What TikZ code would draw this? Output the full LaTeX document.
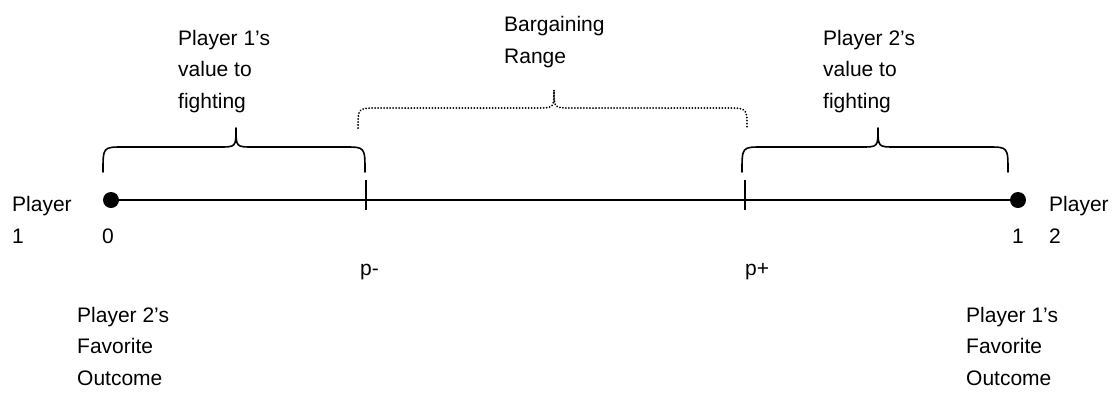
\documentclass[tikz,border=0pt]{standalone}
\usepackage{fontspec}
\setmainfont{Liberation Sans}
\begin{document}
\begin{tikzpicture}[x=1pt,y=-1pt,
  lbl/.style={anchor=base west,inner sep=0pt,font=\fontsize{21}{31.5}\selectfont,align=left},
  axis/.style={line width=1.6pt},
  endpt/.style={circle,fill=black,inner sep=0pt,minimum size=16pt},
  bracket/.style={line width=1.6pt,line cap=round,line join=round},
  dotbracket/.style={line width=2pt,dash pattern=on 0.01pt off 3pt,line cap=round}]
\useasboundingbox (0,0) rectangle (1113,392);

% brace: ends x1,x2, tip x, foot y, shoulder y, tip y
\newcommand\bracepath[6]{%
  (#1,#4) .. controls (#1,#5) .. (#1+20,#5) -- (#3-17,#5)
  .. controls (#3,#5) .. (#3,#6)
  .. controls (#3,#5) .. (#3+17,#5) -- (#2-20,#5)
  .. controls (#2,#5) .. (#2,#4)}

% the line with its end points and ticks
\node[endpt] (zero) at (111,200) {};
\node[endpt] (one) at (1018,200) {};
\draw[axis] (zero) -- (one);
\coordinate (pm) at (366,200);
\coordinate (pp) at (745,200);
\draw[axis] ([yshift=-10pt]pm) -- ([yshift=20pt]pm);
\draw[axis] ([yshift=-10pt]pp) -- ([yshift=20pt]pp);

% braces
\draw[bracket] \bracepath{103}{365}{236}{172}{147}{128};
\draw[bracket] \bracepath{742}{1008}{878}{172}{147}{128};
\draw[dotbracket] \bracepath{358}{747}{554}{128}{108}{90};

% labels (multi-line labels sit on the baseline of their last line)
\node[lbl] (v1) at (178,108) {Player 1’s\\value to\\fighting};
\node[lbl] (br) at (504,63) {Bargaining\\Range};
\node[lbl] (v2) at (823,108) {Player 2’s\\value to\\fighting};
\node[lbl] (p1) at (12,243) {Player\\1};
\node[lbl] (p2) at (1049,243) {Player\\2};
\node[lbl] (l0) at (102,243) {0};
\node[lbl] (l1) at (1012,243) {1};
\node[lbl] (lm) at (360,275) {p-};
\node[lbl] (lp) at (745,275) {p+};
\node[lbl] (f2) at (77,385) {Player 2’s\\Favorite\\Outcome};
\node[lbl] (f1) at (966,385) {Player 1’s\\Favorite\\Outcome};
\end{tikzpicture}
\end{document}
